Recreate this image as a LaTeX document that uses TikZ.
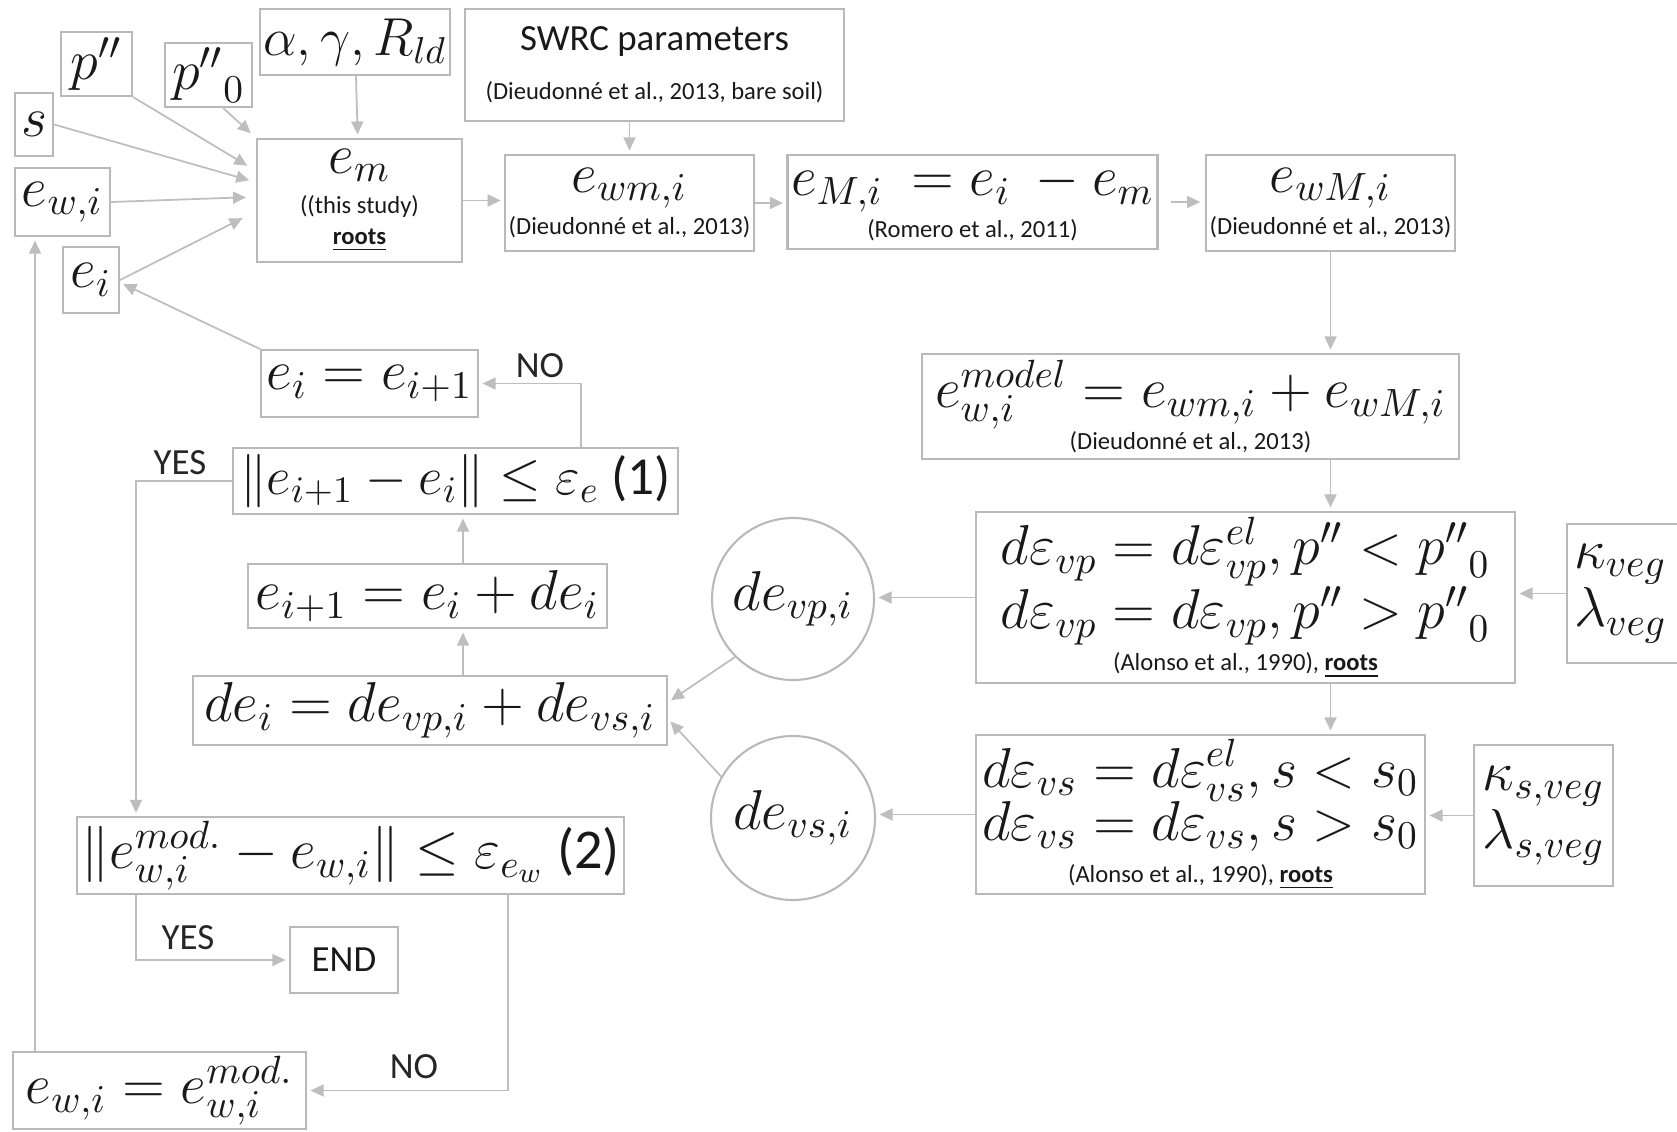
\documentclass[tikz,border=0pt]{standalone}
\usepackage{fix-cm}
\usepackage{fontspec}
\setmainfont{Carlito}
\usetikzlibrary{arrows.meta}
\definecolor{linegray}{RGB}{190,190,190}
\definecolor{boxgray}{RGB}{185,185,185}
\newcommand{\eqsize}{\fontsize{16}{18.5}\selectfont}
\newcommand{\eqsmall}{\fontsize{15.2}{18}\selectfont}
\newcommand{\refsize}{\fontsize{7}{8.5}\selectfont}
\newcommand{\lblsize}{\fontsize{10.5}{12.6}\selectfont}
\newcommand{\rts}{\underline{\textbf{roots}}}
\begin{document}
\begin{tikzpicture}[
  box/.style={draw=boxgray, line width=0.6pt, inner sep=1pt, align=center, text=black!90},
  arr/.style={draw=linegray, line width=0.5pt, -{Triangle[length=1.3mm,width=1.2mm]}, shorten >=1pt},
  lbl/.style={font=\lblsize, text=black!85}
]
\useasboundingbox (0,0) rectangle (16.77,-11.31);

% inputs
\node[box, minimum width=0.71cm, minimum height=0.64cm] (pp) at (0.965,-0.64) {\eqsize $p''$};
\node[box, minimum width=0.87cm, minimum height=0.64cm] (pp0) at (2.085,-0.75) {\eqsize ${p''}_0$};
\node[box, minimum width=1.90cm, minimum height=0.66cm] (par) at (3.55,-0.42) {\eqsmall $\alpha,\gamma,R_{ld}$};
\node[box, minimum width=3.79cm, minimum height=1.12cm] (swrc) at (6.545,-0.65) {{\lblsize SWRC parameters}\\[2pt]{\refsize (Dieudonné et al., 2013, bare soil)}};
\node[box, minimum width=0.38cm, minimum height=0.63cm] (s) at (0.34,-1.245) {\eqsize $s$};
\node[box, minimum width=0.95cm, minimum height=0.68cm] (ew) at (0.625,-2.02) {\eqsize $e_{w,i}$};
\node[box, minimum width=0.56cm, minimum height=0.66cm] (ei) at (0.91,-2.80) {\eqsize $e_i$};

% top row
\node[box, minimum width=2.05cm, minimum height=1.23cm] (em) at (3.595,-2.005) {{\eqsize $e_m$}\\[-0.5pt]{\refsize ((this study)}\\[-3.2pt]{\refsize\rts}};
\node[box, minimum width=2.41cm, minimum height=0.96cm] (ewm) at (6.295,-2.03) {{\eqsize $e_{wm,i}$}\\{\refsize (Dieudonné et al., 2013)}};
\node[box, minimum width=3.67cm, minimum height=0.94cm] (eM) at (9.725,-2.02) {{\eqsize $e_{M,i}\ = e_i\ - e_m$}\\{\refsize (Romero et al., 2011)}};
\node[box, minimum width=2.41cm, minimum height=0.96cm] (ewM) at (13.305,-2.03) {{\eqsize $e_{wM,i}$}\\{\refsize (Dieudonné et al., 2013)}};
\node[box, minimum width=5.37cm, minimum height=1.05cm] (ewmodel) at (11.905,-4.065) {{\eqsize $e_{w,i}^{model} = e_{wm,i} + e_{wM,i}$}\\{\refsize (Dieudonné et al., 2013)}};

% iteration loop
\node[box, minimum width=2.17cm, minimum height=0.67cm] (eiupd) at (3.695,-3.835) {\eqsize $e_i = e_{i+1}$};
\node[box, minimum width=4.45cm, minimum height=0.66cm] (check1) at (4.555,-4.81) {\eqsmall $\|e_{i+1} - e_i\| \leq \varepsilon_e$ (1)};
\node[box, minimum width=3.59cm, minimum height=0.64cm] (einext) at (4.275,-5.96) {\eqsize $e_{i+1} = e_i + de_i$};
\node[box, minimum width=4.74cm, minimum height=0.69cm] (dei) at (4.30,-7.105) {\eqsize $de_i = de_{vp,i} + de_{vs,i}$};
\node[box, circle, minimum size=1.62cm] (devp) at (7.93,-5.99) {\eqsize $de_{vp,i}$};
\node[box, circle, minimum size=1.64cm] (devs) at (7.93,-8.18) {\eqsize $de_{vs,i}$};

% strain increments
\node[box, minimum width=5.39cm, minimum height=1.71cm] (depsvp) at (12.455,-5.975) {{\eqsize $d\varepsilon_{vp} = d\varepsilon_{vp}^{el}, p'' < {p''}_0$}\\[-1pt]{\eqsize $d\varepsilon_{vp} = d\varepsilon_{vp}, p'' > {p''}_0$}\\{\refsize (Alonso et al., 1990), \rts}};
\node[box, anchor=west, text width=1.3cm, align=left, minimum height=1.39cm, inner sep=2pt] (kveg) at (15.66,-5.935) {\eqsize $\kappa_{veg}$\\ \eqsize $\lambda_{veg}$};
\node[box, minimum width=4.49cm, minimum height=1.59cm] (depsvs) at (12.005,-8.145) {{\eqsize $d\varepsilon_{vs} = d\varepsilon_{vs}^{el}, s < s_0$}\\[-1pt]{\eqsize $d\varepsilon_{vs} = d\varepsilon_{vs}, s > s_0$}\\{\refsize (Alonso et al., 1990), \rts}};
\node[box, minimum width=1.39cm, minimum height=1.41cm] (ksveg) at (15.435,-8.155) {\eqsize $\kappa_{s,veg}$\\ \eqsize $\lambda_{s,veg}$};

% outer check
\node[box, minimum width=5.47cm, minimum height=0.75cm] (check2) at (3.505,-8.555) {\eqsize $\big\|e_{w,i}^{mod.} - e_{w,i}\big\| \leq \varepsilon_{e_w}$ (2)};
\node[box, font=\lblsize, minimum width=1.08cm, minimum height=0.66cm] (endn) at (3.44,-9.60) {END};
\node[box, minimum width=2.93cm, minimum height=0.75cm] (ewupd) at (1.595,-10.905) {\eqsize $e_{w,i} = e_{w,i}^{mod.}$};

\node[lbl] (no1) at (5.40,-3.66) {NO};
\node[lbl] (yes1) at (1.80,-4.63) {YES};
\node[lbl] (yes2) at (1.88,-9.38) {YES};
\node[lbl] (no2) at (4.14,-10.67) {NO};

% connectors
\coordinate (vx) at (4.63,0);
\coordinate (nox) at (5.81,0);
\coordinate (yx) at (1.36,0);
\coordinate (no2x) at (5.08,0);
\coordinate (upx) at (0.35,0);
\draw[arr, shorten >=0.1cm] (pp.south east) -- (em.164.5);
\draw[arr, shorten >=0.07cm] (pp0.-66) -- (em.north west);
\draw[arr, shorten >=0.07cm] (s.east) -- (em.170.3);
\draw[arr, shorten >=0.1cm] (ew.east) -- (em.178.6);
\draw[arr, shorten >=0.15cm] (ei.east) -- (em.186.4);
\draw[arr] (par) -- (em);
\draw[arr] (swrc.south -| ewm.north) -- (ewm.north);
\draw[arr] (em.east) -- (em.east -| ewm.west);
\draw[arr] (ewm.east) -- (ewm.east -| eM.west);
\draw[arr, shorten <=0.12cm, shorten >=0.05cm] (eM.east) -- (eM.east -| ewM.west);
\draw[arr] (ewM.south) -- (ewM.south |- ewmodel.north);
\draw[arr] (ewmodel.south -| ewM.south) -- (depsvp.north -| ewM.south);
\draw[arr] (depsvp.south -| ewM.south) -- (depsvs.north -| ewM.south);
\draw[arr] (kveg.west) -- (kveg.west -| depsvp.east);
\draw[arr] (ksveg.west) -- (ksveg.west -| depsvs.east);
\draw[arr] (depsvp.west) -- (depsvp.west -| devp.east);
\draw[arr] (depsvs.west) -- (depsvs.west -| devs.east);
\draw[arr] (devp.225) -- (dei.2);
\draw[arr] (devs.150) -- (dei.-2);
\draw[arr] (dei.north -| vx) -- (einext.south -| vx);
\draw[arr] (einext.north -| vx) -- (check1.south -| vx);
\draw[arr] (check1.north -| nox) |- (eiupd.east);
\draw[arr] (eiupd.north west) -- (ei.-5);
\draw[arr] (check1.west) -| (check2.north -| yx);
\draw[arr] (check2.south -| yx) |- (endn.west);
\draw[arr] (check2.south -| no2x) |- (ewupd.east);
\draw[arr] (ewupd.north -| upx) -- (ew.south -| upx);
\end{tikzpicture}
\end{document}
